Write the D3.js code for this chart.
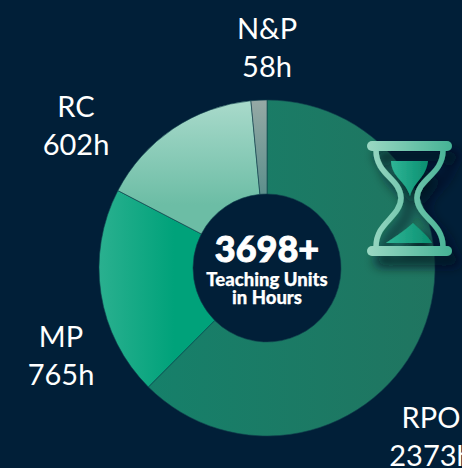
<!DOCTYPE html>
<html><head><meta charset="utf-8">
<script src="https://cdn.jsdelivr.net/npm/d3@7/dist/d3.min.js"></script>
<style>html,body{margin:0;padding:0;background:#011f38;overflow:hidden}svg{display:block}
text{font-family:Lato,"Open Sans",sans-serif;fill:#fff;text-anchor:middle}</style></head><body>
<svg id="c" width="462" height="468"></svg>
<script>
const categories=["RPO","MP","RC","N&P"];
const hours=[2373,765,602,58];
const labelHours=["2373h","765h","602h","58h"];
const colorStops=[["#16806a","#207560"],["#2ab08f","#00a27a"],["#6cbda5","#a9dacb"],["#5c8f8c","#96a9a5"]];
const totalLabel="3698+";
const subLabel=["Teaching Units","in Hours"];
const labelAnchors=[[431,428],[61,347],[76,117],[267,39]];

const svg=d3.select("#c"),cx=267,cy=268,R=168,r=74;
const defs=svg.append("defs");
const gradAxes=[[0,.5,1,.5],[0,.5,.65,.5],[0,.78,0,0],[0,1,0,0]];
categories.forEach((c,i)=>{
  const g=defs.append("linearGradient").attr("id","g"+i)
    .attr("x1",gradAxes[i][0]).attr("y1",gradAxes[i][1]).attr("x2",gradAxes[i][2]).attr("y2",gradAxes[i][3]);
  g.append("stop").attr("offset",0).attr("stop-color",colorStops[i][0]);
  g.append("stop").attr("offset",1).attr("stop-color",colorStops[i][1]);
});
const fg=defs.append("linearGradient").attr("id","frame").attr("gradientUnits","userSpaceOnUse")
  .attr("x1",367).attr("x2",452).attr("y1",0).attr("y2",0);
fg.append("stop").attr("offset",0).attr("stop-color","#9bd8c3");
fg.append("stop").attr("offset",1).attr("stop-color","#45b295");
const sg=defs.append("linearGradient").attr("id","sand");
sg.append("stop").attr("offset",0).attr("stop-color","#2fb596");
sg.append("stop").attr("offset",1).attr("stop-color","#0a8f70");
const blur=defs.append("filter").attr("id","sh").attr("x","-40%").attr("y","-30%").attr("width","200%").attr("height","170%");
blur.append("feDropShadow").attr("dx",8).attr("dy",10).attr("stdDeviation",6).attr("flood-color","#000d1c").attr("flood-opacity",.85);

const pie=d3.pie().sort(null).value(d=>d);
const arc=d3.arc().innerRadius(r).outerRadius(R);
const plot=svg.append("g").attr("transform",`translate(${cx},${cy})`);
plot.selectAll("path").data(pie(hours)).join("path")
  .attr("d",arc).attr("fill",(d,i)=>`url(#g${i})`)
  .attr("stroke","#0f3f4c").attr("stroke-width",.6);

categories.forEach((c,i)=>{
  svg.append("text").attr("x",labelAnchors[i][0]).attr("y",labelAnchors[i][1]).attr("font-size",29).text(c);
  svg.append("text").attr("x",labelAnchors[i][0]).attr("y",labelAnchors[i][1]+38).attr("font-size",29).text(labelHours[i]);
});

svg.append("text").attr("x",cx).attr("y",262).attr("font-size",36).attr("font-weight",900)
  .attr("stroke","#fff").attr("stroke-width",.9).text(totalLabel);
const sub=svg.append("text").attr("font-size",18.5).attr("font-weight",900).attr("stroke","#fff").attr("stroke-width",.25);
subLabel.forEach((s,i)=>sub.append("tspan").attr("x",cx).attr("y",286+i*18).text(s));

const glass=svg.append("g").attr("filter","url(#sh)");
glass.append("path").attr("fill","none").attr("stroke","url(#frame)").attr("stroke-width",5.5)
  .attr("d","M376,150 C376,175 400,178 401,198 C400,218 376,222 376,247 M443,150 C443,175 418,178 417,198 C418,218 443,222 443,247");
glass.append("path").attr("fill","url(#sand)")
  .attr("d","M391,161 L428,161 C426,178 414,181 410,196 C406,181 392,178 391,161 Z");
glass.append("path").attr("fill","url(#sand)")
  .attr("d","M386,243 C396,236 406,230 413,223 C419,229 427,235 432,243 Z");
glass.append("rect").attr("x",367).attr("y",141).attr("width",85).attr("height",10).attr("rx",5).attr("fill","url(#frame)");
glass.append("rect").attr("x",367).attr("y",246).attr("width",85).attr("height",10).attr("rx",5).attr("fill","url(#frame)");
</script></body></html>
